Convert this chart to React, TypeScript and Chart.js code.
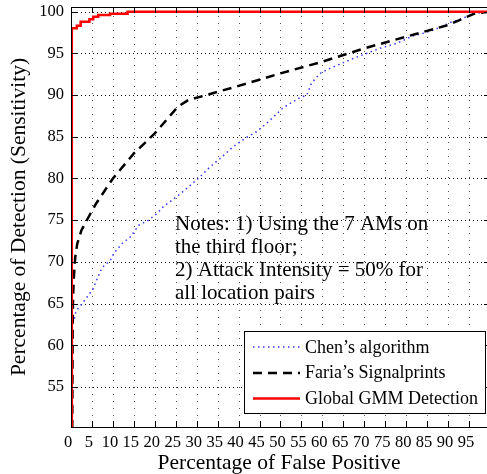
import React, { useEffect, useRef } from 'react';
import { Chart, registerables } from 'chart.js';

Chart.register(...registerables);

const xTicks = [0, 5, 10, 15, 20, 25, 30, 35, 40, 45, 50, 55, 60, 65, 70, 75, 80, 85, 90, 95];
const yTicks = [55, 60, 65, 70, 75, 80, 85, 90, 95, 100];

const chenFP = [0.8, 1.2, 2.2, 3.4, 5.2, 6.2, 7.4, 9.4, 10.2, 12.2, 14.2, 16.2, 18.5, 20.5, 22, 25.2, 27.6, 30.4, 33.2, 35.6, 38.7, 41.5, 44.3, 47.1, 50.7, 52.3, 54.7, 56.3, 57.4, 59.4, 61.8, 64.6, 67.4, 70.6, 73.7, 77.7, 81.7, 84.1, 86.5, 88.9, 90.5, 93.5, 96.3, 100];
const chenTD = [63.2, 64.1, 64.7, 65.5, 66.7, 67.9, 69.3, 70.2, 71.0, 72.2, 73.0, 74.4, 75.0, 75.8, 76.6, 77.8, 78.8, 80.0, 81.4, 82.4, 83.8, 84.8, 85.6, 86.8, 88.5, 89.0, 89.7, 90.0, 91.4, 92.6, 93.2, 93.8, 94.4, 95.0, 95.6, 96.2, 97.1, 97.4, 97.8, 98.3, 98.7, 99.2, 99.8, 100];

const fariaFP = [0.3, 0.4, 0.5, 0.7, 1.0, 1.5, 2.5, 4, 6, 10, 15, 20, 25.5, 28, 33, 40, 50, 60, 70, 80, 90, 96.5, 100];
const fariaTD = [50, 62, 66, 68.3, 70.5, 72.2, 73.8, 75.2, 77.0, 80.0, 83.0, 85.4, 88.6, 89.4, 90.1, 91.1, 92.6, 94.0, 95.6, 97.0, 98.4, 99.8, 100];

const gmmFP = [0.2, 0.2, 1.4, 1.4, 2.3, 2.3, 4.4, 4.4, 5.3, 5.3, 6.5, 6.5, 9.3, 9.3, 13.5, 13.5, 100];
const gmmTD = [50, 98.0, 98.0, 98.3, 98.3, 98.8, 98.8, 99.1, 99.1, 99.4, 99.4, 99.6, 99.6, 99.75, 99.75, 100, 100];

const seriesNames = ['Chen\u2019s algorithm', 'Faria\u2019s Signalprints', 'Global GMM Detection'];
const notesLines = ['Notes: 1) Using the 7 AMs on', 'the third floor;', '2) Attack Intensity = 50% for', 'all location pairs'];
const xTitle = 'Percentage of False Positive';
const yTitle = 'Percentage of Detection (Sensitivity)';

const FONT = '"Liberation Serif", "Times New Roman", serif';
const BLUE = '#3535ff';

const toPoints = (xs: number[], ys: number[]) => xs.map((x, i) => ({ x, y: ys[i] }));

function drawDotted(ctx: CanvasRenderingContext2D, x1: number, y1: number, x2: number, y2: number, step: number, color: string) {
  ctx.fillStyle = color;
  if (x1 === x2) {
    for (let y = y1; y <= y2; y += step) ctx.fillRect(x1, y, 1, 1);
  } else {
    for (let x = x1; x <= x2; x += step) ctx.fillRect(x, y1, 1, 1);
  }
}

const gridPlugin = {
  id: 'dotgrid',
  beforeDatasetsDraw(chart: any) {
    const { ctx, chartArea, scales } = chart;
    const xs = scales.x;
    const ys = scales.y;
    const left = Math.round(chartArea.left);
    const top = Math.round(chartArea.top);
    const bottom = Math.round(chartArea.bottom);
    const right = Math.round(xs.getPixelForValue(100));
    ctx.save();
    xTicks.forEach((v) => {
      if (v === 0) return;
      const px = Math.round(xs.getPixelForValue(v));
      drawDotted(ctx, px, top + 2, px, bottom, 7, '#555');
    });
    yTicks.forEach((v) => {
      const py = Math.round(ys.getPixelForValue(v));
      drawDotted(ctx, left + 2, py, right, py, 4, '#111');
    });
    ctx.restore();
  },
};

const decorPlugin = {
  id: 'decor',
  afterDatasetsDraw(chart: any) {
    const { ctx, chartArea, scales } = chart;
    const xs = scales.x;
    const ys = scales.y;
    const left = Math.round(chartArea.left);
    const top = Math.round(chartArea.top);
    const bottom = Math.round(chartArea.bottom);
    const right = Math.round(xs.getPixelForValue(100));
    ctx.save();
    ctx.fillStyle = '#000';
    // frame
    ctx.fillRect(left, top, right - left, 1);
    ctx.fillRect(left, bottom, right - left, 1);
    ctx.fillRect(left, top, 1, bottom - top + 1);
    ctx.fillRect(right, top, 1, bottom - top + 1);
    const tl = 6;
    xTicks.forEach((v) => {
      const px = Math.round(xs.getPixelForValue(v));
      ctx.fillRect(px, bottom - tl, 1, tl);
      ctx.fillRect(px, top, 1, tl);
    });
    yTicks.forEach((v) => {
      const py = Math.round(ys.getPixelForValue(v));
      ctx.fillRect(left, py, tl, 1);
      ctx.fillRect(right - tl, py, tl, 1);
    });

    // notes
    ctx.fillStyle = '#000';
    ctx.font = `21px ${FONT}`;
    ctx.textAlign = 'left';
    ctx.textBaseline = 'alphabetic';
    notesLines.forEach((t, i) => {
      ctx.fillText(t, 175, 230 + i * 23);
    });

    // legend
    const lx = 244.5, ly = 331.5, lw = 241, lh = 82;
    ctx.fillStyle = '#fff';
    ctx.fillRect(lx, ly, lw, lh);
    ctx.strokeStyle = '#000';
    ctx.lineWidth = 1;
    ctx.setLineDash([]);
    ctx.strokeRect(lx, ly, lw, lh);
    const rows = [347, 373, 398.5];
    const base = [352.5, 378.2, 403.9];
    chart.data.datasets.forEach((ds: any, i: number) => {
      ctx.save();
      ctx.strokeStyle = ds.borderColor;
      ctx.lineWidth = ds.borderWidth;
      ctx.setLineDash(ds.borderDash || []);
      ctx.beginPath();
      ctx.moveTo(253, rows[i]);
      ctx.lineTo(300, rows[i]);
      ctx.stroke();
      ctx.restore();
      ctx.fillStyle = '#000';
      ctx.font = `18px ${FONT}`;
      ctx.fillText(seriesNames[i], 305, base[i]);
    });
    ctx.restore();
  },
};

export default function App() {
  const ref = useRef<HTMLCanvasElement>(null);
  useEffect(() => {
    if (!ref.current) return;
    const chart = new Chart(ref.current, {
      type: 'line',
      data: {
        datasets: [
          {
            label: seriesNames[0],
            data: toPoints(chenFP, chenTD),
            borderColor: BLUE,
            borderWidth: 1.5,
            borderDash: [1.5, 3.5],
            pointRadius: 0,
            tension: 0,
            order: 2,
          },
          {
            label: seriesNames[1],
            data: toPoints(fariaFP, fariaTD),
            borderColor: '#000',
            borderWidth: 2.5,
            borderDash: [9, 6],
            pointRadius: 0,
            tension: 0,
            order: 1,
          },
          {
            label: seriesNames[2],
            data: toPoints(gmmFP, gmmTD),
            borderColor: '#ff0000',
            borderWidth: 2.5,
            pointRadius: 0,
            tension: 0,
            order: 0,
          },
        ],
      },
      options: {
        animation: false,
        responsive: false,
        maintainAspectRatio: false,
        layout: { padding: { top: 7, left: 0, right: 0, bottom: 0 } },
        plugins: { legend: { display: false }, tooltip: { enabled: false } },
        scales: {
          x: {
            type: 'linear',
            min: 0,
            max: 99.3,
            afterBuildTicks: (s: any) => {
              s.ticks = xTicks.map((v) => ({ value: v }));
            },
            afterFit: (s: any) => {
              s.height = 47;
              s.paddingLeft = 0;
              s.paddingRight = 0;
            },
            ticks: {
              autoSkip: false,
              maxRotation: 0,
              minRotation: 0,
              padding: 6,
              labelOffset: -3,
              color: '#000',
              font: { family: FONT, size: 16.5 },
            },
            grid: { display: false, drawTicks: false },
            border: { display: false },
            title: {
              display: true,
              text: xTitle,
              color: '#000',
              font: { family: FONT, size: 21.5, lineHeight: 1 },
              padding: { top: 0, bottom: 0 },
            },
          },
          y: {
            type: 'linear',
            min: 50.2,
            max: 100.56,
            afterBuildTicks: (s: any) => {
              s.ticks = yTicks.map((v) => ({ value: v }));
            },
            afterFit: (s: any) => {
              s.width = 71;
              s.paddingTop = 0;
              s.paddingBottom = 0;
            },
            ticks: {
              padding: 7,
              color: '#000',
              font: { family: FONT, size: 16.5 },
            },
            grid: { display: false, drawTicks: false },
            border: { display: false },
            title: {
              display: true,
              text: yTitle,
              color: '#000',
              font: { family: FONT, size: 21.5, lineHeight: 1 },
              padding: { top: 9, bottom: 0 },
            },
          },
        },
      },
      plugins: [gridPlugin, decorPlugin],
    } as any);
    return () => chart.destroy();
  }, []);
  return (
    <div style={{ position: 'fixed', left: 0, top: 0, width: 487, height: 474, background: '#fff' }}>
      <canvas ref={ref} width={487} height={474} style={{ display: 'block' }} />
    </div>
  );
}
